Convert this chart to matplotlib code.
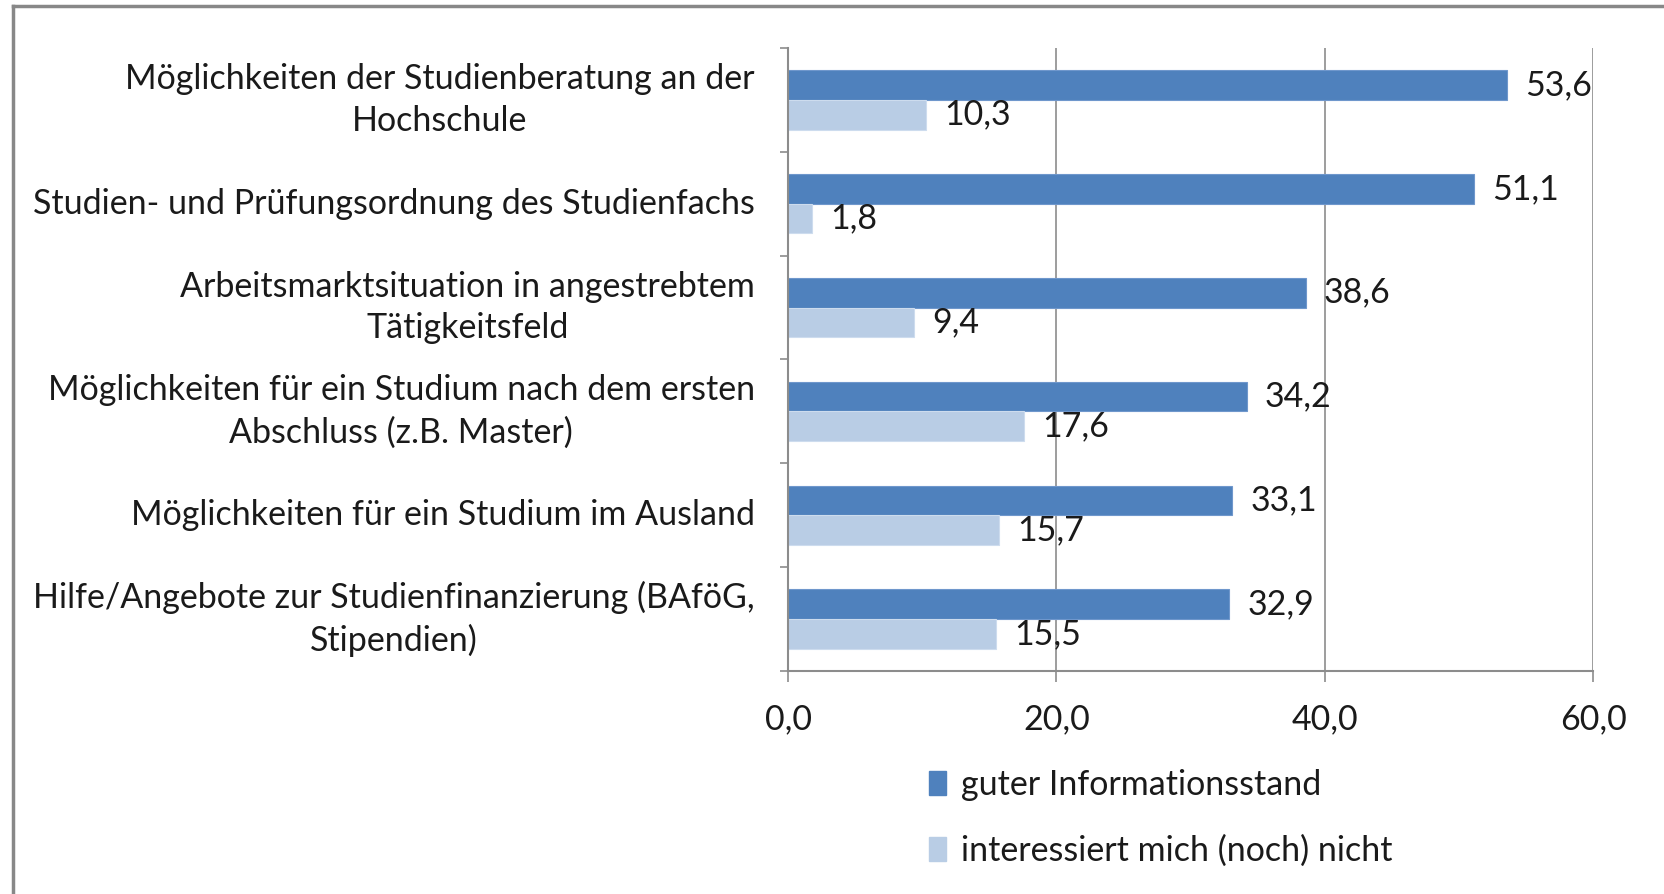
import numpy as np
import matplotlib.pyplot as plt
from matplotlib.lines import Line2D
from matplotlib.patches import Patch

categories = [
    "Möglichkeiten der Studienberatung an der\nHochschule",
    "Studien- und Prüfungsordnung des Studienfachs",
    "Arbeitsmarktsituation in angestrebtem\nTätigkeitsfeld",
    "Möglichkeiten für ein Studium nach dem ersten\nAbschluss (z.B. Master)",
    "Möglichkeiten für ein Studium im Ausland",
    "Hilfe/Angebote zur Studienfinanzierung (BAföG,\nStipendien)",
]
guter_info = [53.6, 51.1, 38.6, 34.2, 33.1, 32.9]
kein_interesse = [10.3, 1.8, 9.4, 17.6, 15.7, 15.5]
series_names = ["guter Informationsstand", "interessiert mich (noch) nicht"]
x_ticks = [0, 20, 40, 60]

plt.rcParams['font.family'] = ['Lato', 'DejaVu Sans']
FS = 24.5
TXT = '#1a1a1a'
GRAY = '#8c8c8c'
DARK = '#4f81bd'
LIGHT = '#b9cde5'


def fmt(v):
    return f"{v:.1f}".replace('.', ',')


def main():
    fig = plt.figure(figsize=(16.65, 8.94), dpi=100)
    ax = fig.add_axes([0.4733, 0.2494, 0.4835, 0.697])

    y = np.arange(len(categories))
    h = 0.286
    b1 = ax.barh(y - h / 2, guter_info, height=h, color=DARK, edgecolor='#6f97cc', lw=0.8)
    b2 = ax.barh(y + h / 2, kein_interesse, height=h, color=LIGHT, edgecolor='#cddcee', lw=0.8)

    for bars, vals in [(b1, guter_info), (b2, kein_interesse)]:
        for bar, v in zip(bars, vals):
            ax.annotate(fmt(v), (v, bar.get_y() + bar.get_height() / 2),
                        xytext=(13, 0), textcoords='offset points',
                        va='center', ha='left', fontsize=FS, color=TXT)

    ax.set_xlim(0, 60)
    ax.set_ylim(len(categories) - 0.5, -0.5)
    ax.set_xticks(x_ticks)
    ax.set_xticklabels([fmt(t) for t in x_ticks], fontsize=FS, color=TXT)
    ax.set_yticks(y)
    ax.set_yticklabels(categories, fontsize=FS, color=TXT, ha='right', va='center',
                       multialignment='center', linespacing=1.38)
    ax.set_yticks(np.arange(len(categories) + 1) - 0.5, minor=True)
    ax.tick_params(axis='y', which='major', length=0, pad=24)
    ax.tick_params(axis='y', which='minor', length=6, color=GRAY, width=1.2, direction='out')
    ax.tick_params(axis='x', length=8, color=GRAY, width=1.2, direction='out', pad=15)

    ax.grid(axis='x', color=GRAY, lw=1.2)
    ax.set_axisbelow(True)
    for s in ['top', 'right']:
        ax.spines[s].set_visible(False)
    for s in ['left', 'bottom']:
        ax.spines[s].set_color(GRAY)
        ax.spines[s].set_linewidth(1.5)

    handles = [Patch(color=DARK), Patch(color=LIGHT)]
    fig.legend(handles, series_names, loc='upper left', bbox_to_anchor=(0.55, 0.155),
               frameon=False, fontsize=FS, handlelength=0.5, handleheight=0.7,
               handletextpad=0.42, labelspacing=0.98, labelcolor=TXT, borderaxespad=0)

    # Rahmen des Ausschnitts
    fig.add_artist(Line2D([0.0078, 0.0078], [0, 0.9935], transform=fig.transFigure, color='#888888', lw=2.5))
    fig.add_artist(Line2D([0.0078, 1], [0.9935, 0.9935], transform=fig.transFigure, color='#888888', lw=2.5))

    fig.savefig('out.png', dpi=100)


if __name__ == '__main__':
    main()
